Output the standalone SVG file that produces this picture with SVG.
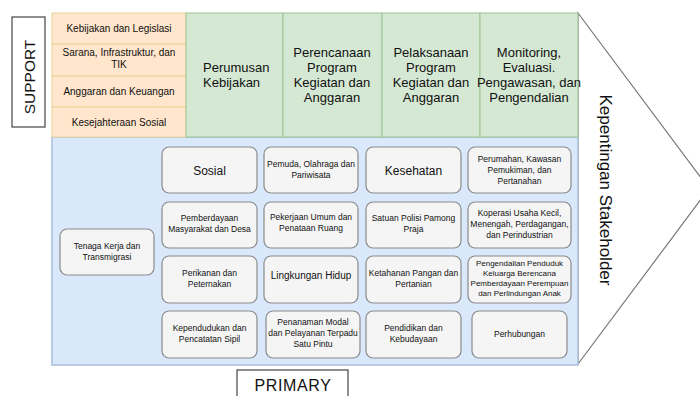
<svg xmlns="http://www.w3.org/2000/svg" width="700" height="396" viewBox="0 0 700 396">
<style>
text{font-family:"Liberation Sans",Arial,sans-serif;fill:#111;text-anchor:middle}
text.st{text-anchor:start}
.sup{fill:#ffe6cc;stroke:#e8d29a;stroke-width:1}
.grn{fill:#d5e8d4;stroke:#9cc493;stroke-width:1}
.blu{fill:#dae8fc;stroke:#a8bfdc;stroke-width:1.5}
.nd{fill:#f5f5f5;stroke:#8a8a8a;stroke-width:1.2}
.lbl{fill:#fff;stroke:#444;stroke-width:1.2}
.s10{font-size:10px}
.s9{font-size:8.5px}
.s13{font-size:13px}
</style>
<rect width="700" height="396" fill="#fff"/>
<g id="arrow"><polygon points="578,13 709,188.5 578,364" fill="#fff" stroke="#777" stroke-width="1.2"/>
<text transform="translate(605,190) rotate(90)" font-size="17" dominant-baseline="central">Kepentingan Stakeholder</text></g>
<g id="support-label"><rect class="lbl" x="12" y="17" width="33" height="110"/>
<text transform="translate(29,77) rotate(-90)" font-size="15.5" dominant-baseline="central">SUPPORT</text></g>
<g id="primary-label"><rect class="lbl" x="237" y="370" width="111" height="40"/>
<text x="293" y="391" font-size="16" letter-spacing="0.6">PRIMARY</text></g>
<g id="blue-area"><rect class="blu" x="52" y="137" width="526" height="228"/></g>
<g id="s1"><rect class="sup" x="52" y="13" width="134" height="31"/><text class="s10" x="119" y="32">Kebijakan dan Legislasi</text></g>
<g id="s2"><rect class="sup" x="52" y="44" width="134" height="32"/><text class="s10" x="119" y="56">Sarana, Infrastruktur, dan</text><text class="s10" x="119" y="68">TIK</text></g>
<g id="s3"><rect class="sup" x="52" y="76" width="134" height="31"/><text class="s10" x="119" y="95">Anggaran dan Keuangan</text></g>
<g id="s4"><rect class="sup" x="52" y="107" width="134" height="30"/><text class="s10" x="119" y="126">Kesejahteraan Sosial</text></g>
<g id="g1"><rect class="grn" x="186" y="13" width="97" height="124"/><text class="s13 st" x="203" y="72">Perumusan</text><text class="s13 st" x="203" y="87">Kebijakan</text></g>
<g id="g2"><rect class="grn" x="283" y="13" width="99" height="124"/><text class="s13" x="332" y="57">Perencanaan</text><text class="s13" x="332" y="72">Program</text><text class="s13" x="332" y="87">Kegiatan dan</text><text class="s13" x="332" y="102">Anggaran</text></g>
<g id="g3"><rect class="grn" x="382" y="13" width="98" height="124"/><text class="s13" x="431" y="57">Pelaksanaan</text><text class="s13" x="431" y="72">Program</text><text class="s13" x="431" y="87">Kegiatan dan</text><text class="s13" x="431" y="102">Anggaran</text></g>
<g id="g4"><rect class="grn" x="480" y="13" width="98" height="124"/><text class="s13" x="529" y="57">Monitoring,</text><text class="s13" x="529" y="72">Evaluasi.</text><text class="s13" x="529" y="87">Pengawasan, dan</text><text class="s13" x="529" y="102">Pengendalian</text></g>
<g id="n-tenaga"><rect class="nd" x="60" y="229" width="94" height="46" rx="7"/><text class="s9" x="107" y="249">Tenaga Kerja dan</text><text class="s9" x="107" y="260">Transmigrasi</text></g>
<g id="n-sosial"><rect class="nd" x="162" y="147" width="95" height="46" rx="7"/><text x="209.5" y="175" font-size="12">Sosial</text></g>
<g id="n-pemuda"><rect class="nd" x="264" y="147" width="94" height="46" rx="7"/><text class="s9" x="311" y="167">Pemuda, Olahraga dan</text><text class="s9" x="311" y="178">Pariwisata</text></g>
<g id="n-kesehatan"><rect class="nd" x="366" y="147" width="95" height="46" rx="7"/><text x="413.5" y="175" font-size="12">Kesehatan</text></g>
<g id="n-perumahan"><rect class="nd" x="468" y="147" width="103" height="46" rx="7"/><text class="s9" x="519.5" y="162">Perumahan, Kawasan</text><text class="s9" x="519.5" y="173">Pemukiman, dan</text><text class="s9" x="519.5" y="184">Pertanahan</text></g>
<g id="n-pemberdayaan"><rect class="nd" x="162" y="202" width="95" height="46" rx="7"/><text class="s9" x="209.5" y="221">Pemberdayaan</text><text class="s9" x="209.5" y="232">Masyarakat dan Desa</text></g>
<g id="n-pu"><rect class="nd" x="264" y="202" width="94" height="46" rx="7"/><text class="s9" x="311" y="220">Pekerjaan Umum dan</text><text class="s9" x="311" y="231">Penataan Ruang</text></g>
<g id="n-satpol"><rect class="nd" x="366" y="202" width="95" height="46" rx="7"/><text class="s9" x="413.5" y="221">Satuan Polisi Pamong</text><text class="s9" x="413.5" y="232">Praja</text></g>
<g id="n-koperasi"><rect class="nd" x="468" y="202" width="103" height="46" rx="7"/><text class="s9" x="519.5" y="216">Koperasi Usaha Kecil,</text><text class="s9" x="519.5" y="227">Menengah, Perdagangan,</text><text class="s9" x="519.5" y="238">dan Perindustrian</text></g>
<g id="n-perikanan"><rect class="nd" x="162" y="256" width="95" height="47" rx="7"/><text class="s9" x="209.5" y="276">Perikanan dan</text><text class="s9" x="209.5" y="287">Peternakan</text></g>
<g id="n-lingkungan"><rect class="nd" x="264" y="256" width="94" height="47" rx="7"/><text x="311" y="279" font-size="10">Lingkungan Hidup</text></g>
<g id="n-ketahanan"><rect class="nd" x="366" y="256" width="95" height="47" rx="7"/><text class="s9" x="413.5" y="276">Ketahanan Pangan dan</text><text class="s9" x="413.5" y="287">Pertanian</text></g>
<g id="n-pengendalian"><rect class="nd" x="468" y="256" width="103" height="47" rx="7"/><text x="519.5" y="266" font-size="8">Pengendalian Penduduk</text><text x="519.5" y="276" font-size="8">Keluarga Berencana</text><text x="519.5" y="286" font-size="8">Pemberdayaan Perempuan</text><text x="519.5" y="296" font-size="8">dan Perlindungan Anak</text></g>
<g id="n-kependudukan"><rect class="nd" x="162" y="311" width="95" height="47" rx="7"/><text class="s9" x="209.5" y="331">Kependudukan dan</text><text class="s9" x="209.5" y="342">Pencatatan Sipil</text></g>
<g id="n-penanaman"><rect class="nd" x="266" y="311" width="94" height="47" rx="7"/><text class="s9" x="313" y="325">Penanaman Modal</text><text class="s9" x="313" y="336">dan Pelayanan Terpadu</text><text class="s9" x="313" y="347">Satu Pintu</text></g>
<g id="n-pendidikan"><rect class="nd" x="366" y="311" width="95" height="47" rx="7"/><text class="s9" x="413.5" y="331">Pendidikan dan</text><text class="s9" x="413.5" y="342">Kebudayaan</text></g>
<g id="n-perhubungan"><rect class="nd" x="472" y="311" width="95" height="47" rx="7"/><text class="s9" x="519.5" y="337">Perhubungan</text></g>
<g id="connectors"></g>
</svg>
